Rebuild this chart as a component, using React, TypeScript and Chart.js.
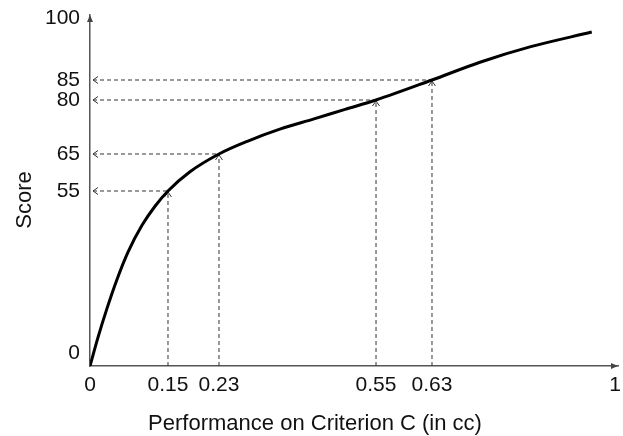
import React, { useEffect, useRef } from 'react';
import { Chart, registerables, LinearScale } from 'chart.js';

// ---- data ----
const curveX = [0, 0.0154, 0.0327, 0.0519, 0.0731, 0.1, 0.125, 0.15, 0.1845, 0.23, 0.289, 0.354, 0.422, 0.487, 0.55, 0.63, 0.727, 0.828, 0.953];
const curveY = [0, 9, 18.1, 27.2, 35.8, 44.2, 50.2, 55, 60.2, 65, 68.6, 71.9, 74.7, 77.4, 80, 85, 89.3, 93, 96.6];
const xTicks = [0, 0.15, 0.23, 0.55, 0.63, 1];
const yTicks = [0, 55, 65, 80, 85, 100];
const guideX = [0.15, 0.23, 0.55, 0.63];
const guideY = [55, 65, 80, 85];
const xTitle = 'Performance on Criterion C (in cc)';
const yTitle = 'Score';

// ---- layout (schematic, not-to-scale axes): fraction of the axis length where each tick sits ----
const xTickPos = [0, 0.1477, 0.2443, 0.5417, 0.6477, 0.9943];
const yTickPos = [0, 0.4986, 0.604, 0.7578, 0.8148, 0.9915];
const axisStops: Record<string, number[][]> = {
  x: xTicks.map((v, i) => [v, xTickPos[i]]),
  y: yTicks.map((v, i) => [v, yTickPos[i]]),
};

const FONT = '"Liberation Sans", Arial, sans-serif';
const TEXT = '#111';

class PiecewiseScale extends LinearScale {
  static id = 'piecewise';
  static defaults = LinearScale.defaults;
  _stops() {
    return axisStops[(this as any).id];
  }
  getPixelForValue(value: number) {
    if (value === null || value === undefined || isNaN(value)) return NaN;
    const s = this._stops();
    let i = 1;
    while (i < s.length - 1 && value > s[i][0]) i++;
    const [v0, d0] = s[i - 1];
    const [v1, d1] = s[i];
    const d = d0 + ((value - v0) * (d1 - d0)) / (v1 - v0);
    return (this as any).getPixelForDecimal(d);
  }
  getValueForPixel(pixel: number) {
    const d = (this as any).getDecimalForPixel(pixel);
    const s = this._stops();
    let i = 1;
    while (i < s.length - 1 && d > s[i][1]) i++;
    const [v0, d0] = s[i - 1];
    const [v1, d1] = s[i];
    return v0 + ((d - d0) * (v1 - v0)) / (d1 - d0);
  }
}

Chart.register(...registerables, PiecewiseScale as any);

const guidePlugin = {
  id: 'guides',
  beforeDatasetsDraw(chart: any) {
    const { ctx, scales } = chart;
    const x = scales.x;
    const y = scales.y;
    ctx.save();
    ctx.strokeStyle = '#333';
    ctx.lineWidth = 1;
    guideX.forEach((gx, i) => {
      const px = x.getPixelForValue(gx);
      const py = y.getPixelForValue(guideY[i]);
      const x0 = x.left + 3;
      const y0 = y.bottom;
      ctx.setLineDash([4, 3]);
      ctx.beginPath();
      ctx.moveTo(x0, py);
      ctx.lineTo(px, py);
      ctx.moveTo(px, y0);
      ctx.lineTo(px, py);
      ctx.stroke();
      ctx.setLineDash([]);
      ctx.beginPath();
      ctx.moveTo(x0 + 5, py - 3.5);
      ctx.lineTo(x0, py);
      ctx.lineTo(x0 + 5, py + 3.5);
      ctx.moveTo(px - 3.5, py + 6);
      ctx.lineTo(px, py + 1);
      ctx.lineTo(px + 3.5, py + 6);
      ctx.stroke();
    });
    ctx.restore();
  },
};

const axisPlugin = {
  id: 'axisDecor',
  afterDraw(chart: any) {
    const { ctx, chartArea, width } = chart;
    ctx.save();
    ctx.fillStyle = '#444';
    ctx.beginPath();
    ctx.moveTo(chartArea.right, chartArea.bottom);
    ctx.lineTo(chartArea.right - 7, chartArea.bottom - 3);
    ctx.lineTo(chartArea.right - 7, chartArea.bottom + 3);
    ctx.closePath();
    ctx.fill();
    ctx.beginPath();
    ctx.moveTo(chartArea.left, chartArea.top);
    ctx.lineTo(chartArea.left - 3, chartArea.top + 7);
    ctx.lineTo(chartArea.left + 3, chartArea.top + 7);
    ctx.closePath();
    ctx.fill();
    ctx.fillStyle = TEXT;
    ctx.textAlign = 'center';
    ctx.textBaseline = 'alphabetic';
    ctx.font = `22px ${FONT}`;
    ctx.fillText(xTitle, width * 0.5056, chartArea.bottom + 64);
    ctx.translate(31, 200);
    ctx.rotate(-Math.PI / 2);
    ctx.font = `22px ${FONT}`;
    ctx.fillText(yTitle, 0, 0);
    ctx.restore();
  },
};

export default function App() {
  const ref = useRef<HTMLCanvasElement | null>(null);
  useEffect(() => {
    if (!ref.current) return;
    const chart = new Chart(ref.current, {
      type: 'line',
      data: {
        datasets: [
          {
            data: curveX.map((x, i) => ({ x, y: curveY[i] })),
            borderColor: '#000',
            borderWidth: 3,
            pointRadius: 0,
            cubicInterpolationMode: 'monotone',
            fill: false,
          } as any,
        ],
      },
      options: {
        animation: false,
        responsive: true,
        maintainAspectRatio: false,
        events: [],
        layout: { padding: { top: 15, right: 5, left: 0, bottom: 0 } },
        plugins: { legend: { display: false }, tooltip: { enabled: false } },
        scales: {
          x: {
            type: 'piecewise' as any,
            min: 0,
            max: 1.01,
            afterFit: (s: any) => {
              s.height = 70;
              s.paddingLeft = 0;
              s.paddingRight = 0;
            },
            afterBuildTicks: (s: any) => {
              s.ticks = xTicks.map((v) => ({ value: v }));
            },
            grid: { display: false, drawTicks: false },
            border: { display: true, color: '#555', width: 1.5 },
            ticks: {
              autoSkip: false,
              maxRotation: 0,
              padding: 7,
              color: TEXT,
              font: { family: FONT, size: 21 },
              callback: (v: any) => String(v),
            },
          },
          y: {
            type: 'piecewise' as any,
            min: 0,
            max: 101,
            afterFit: (s: any) => {
              s.width = 90;
              s.paddingTop = 0;
              s.paddingBottom = 0;
            },
            afterBuildTicks: (s: any) => {
              s.ticks = yTicks.map((v) => ({ value: v }));
            },
            grid: { display: false, drawTicks: false },
            border: { display: true, color: '#555', width: 1.5 },
            ticks: {
              autoSkip: false,
              padding: 10,
              color: TEXT,
              font: { family: FONT, size: 21 },
              callback: (v: any) => (v === 0 ? ['0', ''] : String(v)),
            },
          },
        } as any,
      },
      plugins: [guidePlugin, axisPlugin],
    });
    return () => chart.destroy();
  }, []);
  return (
    <div style={{ position: 'absolute', left: 0, top: 0, width: 623, height: 436, background: '#fff' }}>
      <canvas ref={ref} />
    </div>
  );
}
